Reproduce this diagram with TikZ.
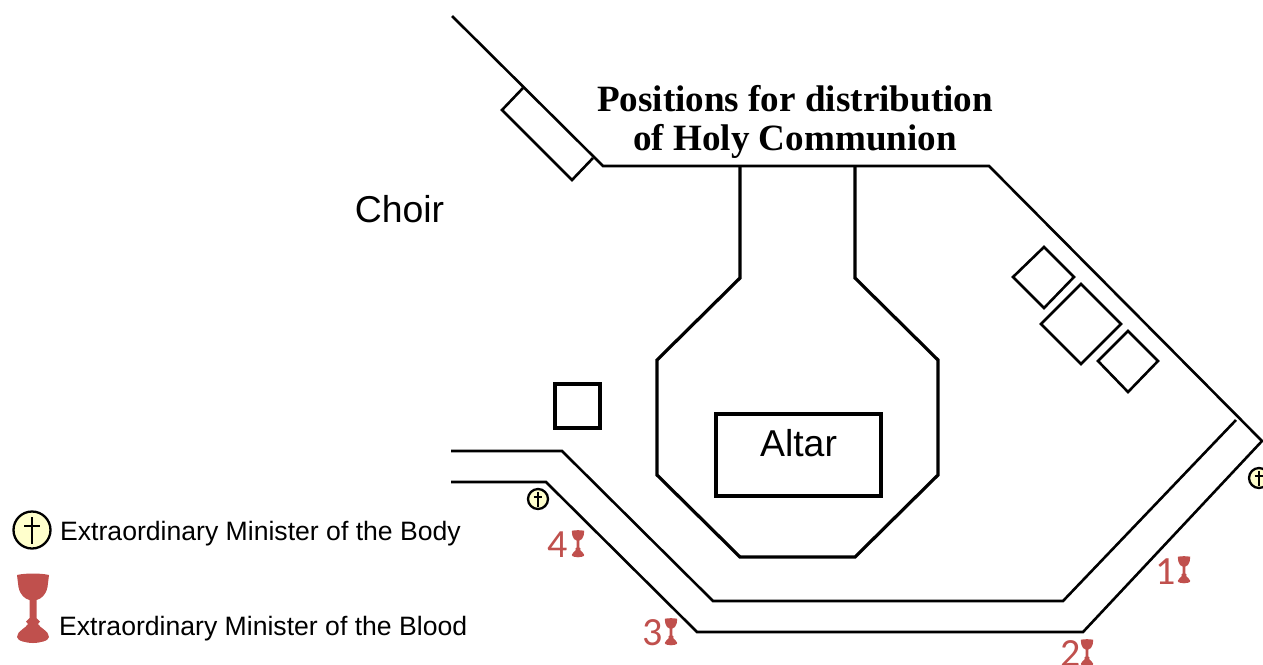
\documentclass[tikz,border=0pt]{standalone}
\usepackage{fontspec}
\setmainfont{Liberation Sans}
\newfontfamily\titlefont{Liberation Serif}
\newfontfamily\numfont{Carlito}
\definecolor{wine}{HTML}{C0504D}
\definecolor{pale}{HTML}{FFFFCC}

\begin{document}
\begin{tikzpicture}
[
                  x =  1pt,
                  y = -1pt,
               wall/.style = { draw=black, line width=2.6pt },
              heavy/.style = { draw=black, line width=3.2pt },
          titletext/.style = { inner sep=0pt, align=center, font=\titlefont\bfseries\fontsize{37.1}{39}\selectfont },
            bigtext/.style = { inner sep=0pt, font=\fontsize{37.4}{40}\selectfont },
         legendtext/.style = { inner sep=0pt, anchor=west, font=\fontsize{26.6}{30}\selectfont },
            numtext/.style = { inner sep=0pt, text=wine, font=\numfont\fontsize{40}{44}\selectfont },
  chalice/.pic = {
    \fill [wine] (-16,2) .. controls (-8,0) and (8,0) .. (16,2)
      -- (14.5,14) .. controls (13,22) and (8,26) .. (3.5,27)
      -- (3.5,45) -- (7,48.5) -- (5,51) .. controls (7,55) and (16,58) .. (16,64)
      .. controls (16,68) and (6,70) .. (0,70) .. controls (-6,70) and (-16,68) .. (-16,64)
      .. controls (-16,58) and (-7,55) .. (-5,51) -- (-7,48.5) -- (-3.5,45) -- (-3.5,27)
      .. controls (-8,26) and (-13,22) .. (-14.5,14) -- cycle;
  },
  crossmark/.pic = {
    \draw [fill=pale, line width=2.3pt] (0,0) circle (18.5);
    \draw [line width=2.3pt] (0,-13) -- (0,14);
    \draw [line width=2.3pt] (-8,-4) -- (8,-4);
  }
]

    \useasboundingbox (0,0) rectangle (1263,664);

    % walls of the church
    \draw [wall] (452,16) -- (603,166) -- (989,166) -- (1262,441) -- (1083,632)
                 -- (697,632) -- (546,482) -- (451,482);
    \draw [wall] (451,451) -- (562,451) -- (713,601) -- (1063,601) -- (1236,420);

    % sanctuary
    \draw [heavy] (740,166) -- (740,278) -- (657,360) -- (657,475) -- (740,557)
                  -- (855,557) -- (938,475) -- (938,360) -- (855,278) -- (855,166);

    % furniture
    \draw [wall] (523,88) -- (502,110) -- (572,180) -- (593,158);
    \draw [heavy] (555,384) rectangle (600,428);
    \draw [heavy] (716,414) rectangle (881,496);
    \draw [wall] (1044,247) -- (1013,277) -- (1044,308) -- (1074,277) -- cycle;
    \draw [wall] (1081,284) -- (1041,324) -- (1081,364) -- (1121,324) -- cycle;
    \draw [wall] (1128,331) -- (1098,361) -- (1128,392) -- (1158,361) -- cycle;

    \node (Title)       at (795,122) [titletext]  {Positions for distribution\\of Holy Communion};
    \node (Choir)       at (399.5,209) [bigtext]  {Choir};
    \node (Altar)       at (798.5,443) [bigtext]  {Altar};
    \node (BodyLabel)   at (60,534)  [legendtext] {Extraordinary Minister of the Body};
    \node (BloodLabel)  at (59,629)  [legendtext] {Extraordinary Minister of the Blood};

    \node (NumOne)      at (1166,572) [numtext] {1};
    \node (NumTwo)      at (1071,654) [numtext] {2};
    \node (NumThree)    at (653,633)  [numtext] {3};
    \node (NumFour)     at (558,545)  [numtext] {4};

    \pic at (32,530) {crossmark};
    \pic [scale=0.54] at (538,499)  {crossmark};
    \pic [scale=0.54] at (1259,478) {crossmark};

    \pic at (33,573) {chalice};
    \pic [scale=0.39] at (1184,556) {chalice};
    \pic [scale=0.39] at (1087,639) {chalice};
    \pic [scale=0.39] at (671,618)  {chalice};
    \pic [scale=0.39] at (578,530)  {chalice};

\end{tikzpicture}
\end{document}
